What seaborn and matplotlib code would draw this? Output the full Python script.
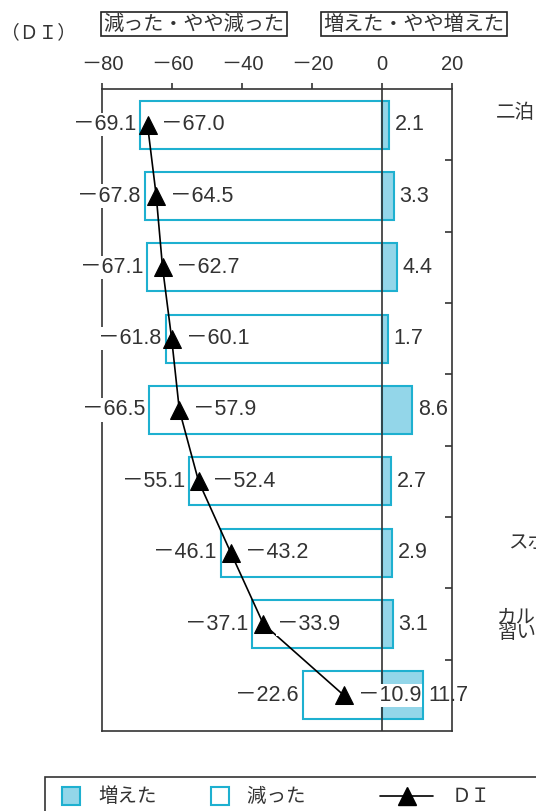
import numpy as np
import matplotlib
matplotlib.use("Agg")
import matplotlib.pyplot as plt
import seaborn as sns
from matplotlib.patches import Patch, Rectangle
from matplotlib.lines import Line2D
from matplotlib.legend_handler import HandlerPatch

# data (top row first)
rows = [str(i) for i in range(9)]
decreased = [69.1, 67.8, 67.1, 61.8, 66.5, 55.1, 46.1, 37.1, 22.6]
increased = [2.1, 3.3, 4.4, 1.7, 8.6, 2.7, 2.9, 3.1, 11.7]
di = [-67.0, -64.5, -62.7, -60.1, -57.9, -52.4, -43.2, -33.9, -10.9]
# category names are cut off at the right edge of the picture
row_labels = ["二泊", "", "", "", "", "", "スポ", "カル\n習い", ""]
xticks = [-80, -60, -40, -20, 0, 20]

sns.set_style("white")
plt.rcParams['font.family'] = ['Liberation Sans', 'Noto Sans CJK JP', 'DejaVu Sans']

edge = '#1eb0d0'
fill = '#93d6e9'
dark = '#333333'
W, H = 536, 811

def mnum(v):
    # full-width minus like the original
    return ("－" if v < 0 else "") + f"{abs(v):.1f}"

fig = plt.figure(figsize=(W / 100, H / 100), dpi=100)
ax = fig.add_axes([102 / W, 1 - 731 / H, 350 / W, (731 - 89) / H])

neg = [-v for v in decreased]
sns.barplot(x=neg, y=rows, orient='h', color='white', saturation=1,
            edgecolor=edge, linewidth=1.5, width=0.67, ax=ax, zorder=2)
sns.barplot(x=increased, y=rows, orient='h', color=fill, saturation=1,
            edgecolor=edge, linewidth=1.5, width=0.67, ax=ax, zorder=2)
ax.axvline(0, color=dark, lw=1.2, zorder=3)
sns.lineplot(x=di, y=np.arange(9), sort=False, color='black', lw=1.2,
             marker='^', markersize=13, markeredgecolor='black', ax=ax, zorder=4)

for i in range(9):
    ax.annotate(mnum(neg[i]), (neg[i], i), xytext=(-3, 0), textcoords='offset points',
                ha='right', va='center', fontsize=15.5, color='#333',
                bbox=dict(boxstyle='square,pad=0.05', fc='white', ec='none'), zorder=5)
    ax.annotate(mnum(di[i]), (di[i], i), xytext=(10, 0), textcoords='offset points',
                ha='left', va='center', fontsize=15.5, color='#333',
                bbox=dict(boxstyle='square,pad=0.05', fc='white', ec='none'), zorder=5)
    ax.annotate(f"{increased[i]:.1f}", (increased[i], i), xytext=(4, 0),
                textcoords='offset points', ha='left', va='center', fontsize=15.5, color='#333',
                zorder=5)

ax.set_xlim(-80, 20)
ax.set_ylim(8.5, -0.5)
ax.set_xlabel("")
ax.set_ylabel("")
ax.xaxis.tick_top()
ax.set_xticks(xticks)
ax.set_xticklabels([("－" if t < 0 else "") + str(abs(t)) for t in xticks], fontsize=14.5, color='#333')
ax.tick_params(axis='x', direction='out', length=4, width=1.2, color=dark, pad=7)
ax.set_yticks([])
ax.set_yticks(np.arange(0.5, 8, 1), minor=True)
ax.tick_params(axis='y', which='minor', left=False, right=True, direction='in',
               length=5, width=1.2, color=dark)
for s in ax.spines.values():
    s.set_color(dark)
    s.set_linewidth(1.2)
    s.set_visible(True)

# headers
fig.text(38 / W, 1 - 33 / H, "（ＤＩ）", ha='center', va='center', fontsize=13.5, color='#333')
box = dict(boxstyle='square,pad=0.1', fc='white', ec='#222', lw=1.2)
fig.text(194 / W, 1 - 24 / H, "減った・やや減った", ha='center', va='center',
         fontsize=14.5, color='#333', bbox=box)
fig.text(414 / W, 1 - 24 / H, "増えた・やや増えた", ha='center', va='center',
         fontsize=14.5, color='#333', bbox=box)

# category labels on the right (cut by the edge, as in the original)
label_pos = {0: (496, 113), 6: (508, 543), 7: (497, 626)}
for i, (px, py) in label_pos.items():
    fig.text(px / W, 1 - py / H, row_labels[i], ha='left', va='center',
             fontsize=14, color='#333', linespacing=0.85)


class SquareHandler(HandlerPatch):
    def create_artists(self, legend, orig_handle, xdescent, ydescent, width, height, fontsize, trans):
        s = 13
        p = Rectangle((width - s - xdescent, -ydescent + (height - s) / 2), s, s,
                      facecolor=orig_handle.get_facecolor(),
                      edgecolor=orig_handle.get_edgecolor(), lw=1.5, transform=trans)
        return [p]


handles = [Patch(facecolor=fill, edgecolor=edge),
           Patch(facecolor='white', edgecolor=edge),
           Line2D([], [], color='black', lw=1.2, marker='^', markersize=13)]
fig.legend(handles, ["増えた", "減った　　   ", "ＤＩ"], ncol=3, frameon=False,
           loc='center left', bbox_to_anchor=(10 / W, 1 - 797 / H),
           fontsize=14, handlelength=2.7, handletextpad=0.95, columnspacing=1.0,
           handler_map={Patch: SquareHandler()}, labelcolor='#333')
fig.add_artist(Rectangle((45 / W, -0.1), 1, (1 - 777 / H) + 0.1, transform=fig.transFigure,
                         fill=False, ec=dark, lw=1.2))

fig.savefig("out.png", dpi=100)
